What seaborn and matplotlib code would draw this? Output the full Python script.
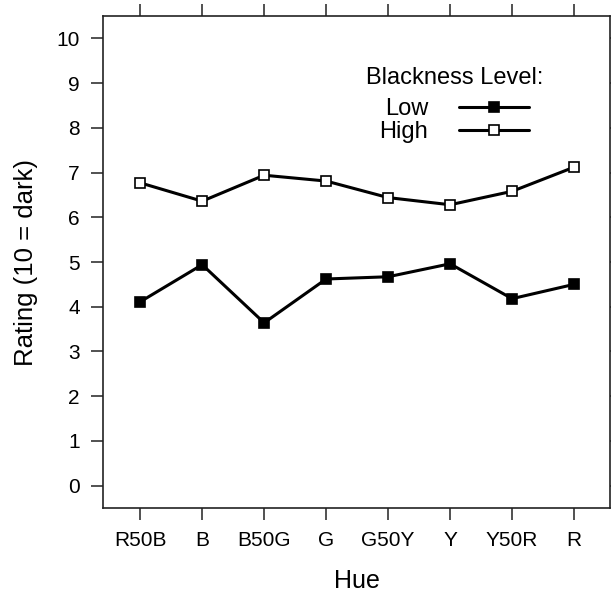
import matplotlib
matplotlib.use("Agg")
import matplotlib.pyplot as plt
import seaborn as sns
import pandas as pd

hues = ["R50B", "B", "B50G", "G", "G50Y", "Y", "Y50R", "R"]
low_rating = [4.11, 4.94, 3.64, 4.62, 4.67, 4.96, 4.18, 4.50]
high_rating = [6.77, 6.36, 6.94, 6.81, 6.44, 6.28, 6.58, 7.12]
y_ticks = list(range(0, 11))

sns.set_theme(style="white")
plt.rcParams["font.family"] = ["Liberation Sans", "DejaVu Sans"]
plt.rcParams["text.color"] = "black"
plt.rcParams["axes.labelcolor"] = "black"
plt.rcParams["xtick.color"] = "black"
plt.rcParams["ytick.color"] = "black"

fig = plt.figure(figsize=(6.11, 5.94), dpi=100)
ax = fig.add_axes([103 / 611, 1 - 508 / 594, (610 - 103) / 611, (508 - 16) / 594])

df = pd.DataFrame({"Hue": hues, "Low": low_rating, "High": high_rating})

sns.lineplot(data=df, x="Hue", y="Low", ax=ax, sort=False, color="black",
             lw=2.2, marker="s", markersize=7.5, markerfacecolor="black",
             markeredgecolor="black", markeredgewidth=1.2, label="Low")
sns.lineplot(data=df, x="Hue", y="High", ax=ax, sort=False, color="black",
             lw=2.2, marker="s", markersize=7.5, markerfacecolor="white",
             markeredgecolor="black", markeredgewidth=1.2, label="High")

ax.set_xlim(-0.6, 7.58)
ax.set_ylim(-0.5, 10.5)
ax.set_yticks(y_ticks)
ax.set_xticks(range(len(hues)))
ax.set_xticklabels(hues)
ax.tick_params(axis="both", which="both", direction="out", length=8.8, width=1.1,
               color="#222222", labelcolor="black", labelsize=15, top=True,
               right=True, labeltop=False, labelright=False, bottom=True,
               left=True, pad=7.5)
ax.tick_params(axis="y", pad=8)
for s in ax.spines.values():
    s.set_color("#222222")
    s.set_linewidth(1.2)

ax.set_xlabel("Hue", fontsize=18, labelpad=14, color="black")
ax.set_ylabel("Rating (10 = dark)", fontsize=18.5, labelpad=13, color="black")

leg = ax.legend(title="Blackness Level:", loc="upper right",
                bbox_to_anchor=(543 / 611, 1 - 67 / 594),
                bbox_transform=fig.transFigure, frameon=False,
                markerfirst=False, fontsize=17, title_fontsize=17,
                handlelength=3.0, handletextpad=1.3, labelspacing=0.05,
                borderpad=0, borderaxespad=0)
leg._legend_box.align = "center"
leg._legend_box.sep = 6.5
for t in leg.get_texts():
    t.set_color("black")
leg.get_title().set_color("black")

fig.savefig("out.png", dpi=100)
